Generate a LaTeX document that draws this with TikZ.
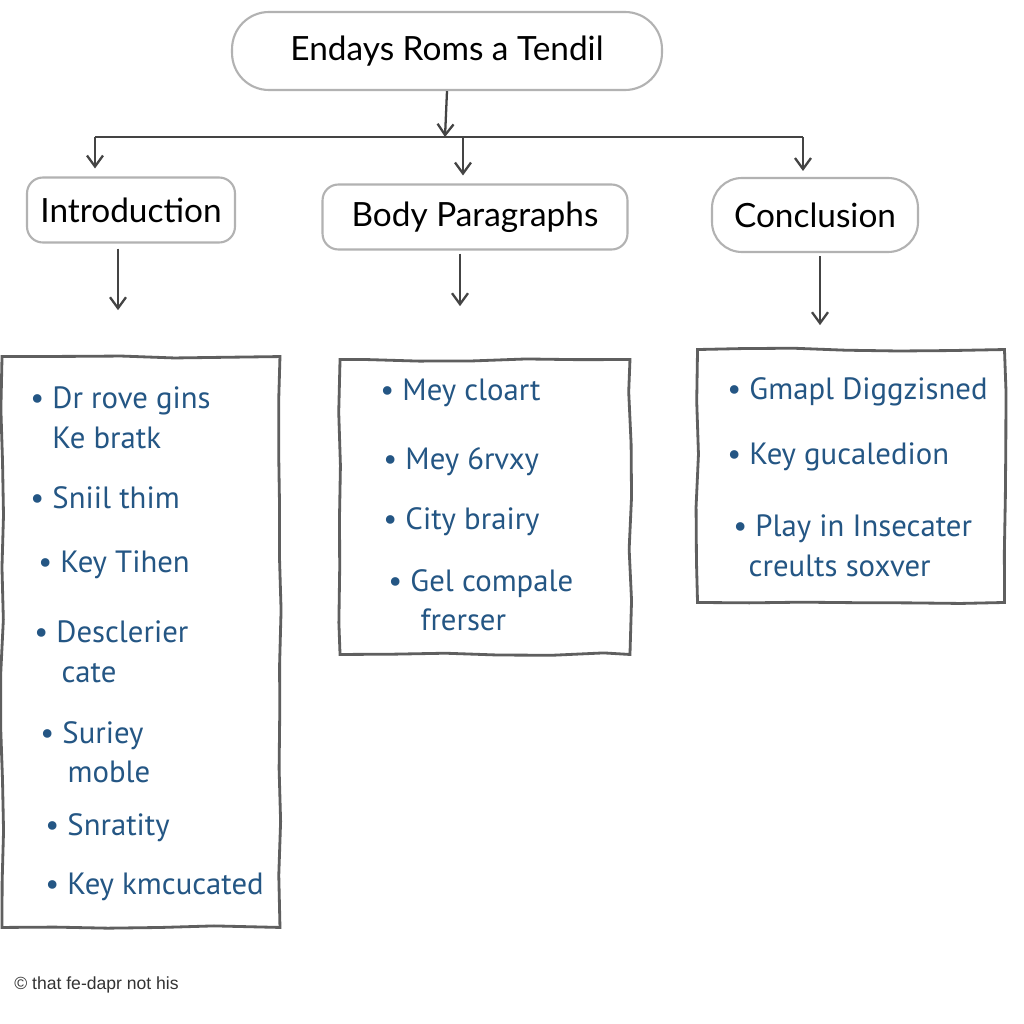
\documentclass[tikz,border=0pt]{standalone}
\usepackage{fontspec}
\setmainfont{Lato}
\newfontfamily\handfont{PT Sans}
\newfontfamily\notefont{Liberation Sans}
\usepackage{tikz}
\usetikzlibrary{arrows.meta,positioning,decorations.pathmorphing,calc}
\definecolor{inkblue}{RGB}{36,86,132}
\definecolor{penGray}{RGB}{95,95,95}
\definecolor{lineGray}{RGB}{178,178,178}
\definecolor{arrowGray}{RGB}{68,68,68}
\newcommand{\bulmark}{\textbullet\ }
\newcommand{\bulgap}{\phantom{\textbullet\ }}

\begin{document}
\begin{tikzpicture}[x=0.02cm,y=-0.02cm,
  head/.style={draw=lineGray,line width=1.2pt,rounded corners=9pt,fill=white,
    inner sep=0pt,font=\fontsize{19}{22}\selectfont},
  sheet/.style={draw=penGray,line width=1.6pt,inner sep=0pt,
    decorate,decoration={random steps,segment length=30pt,amplitude=0.9pt}},
  item/.style={text=inkblue,font=\handfont\fontsize{17.5}{22.5}\selectfont,
    align=left,anchor=west,inner sep=0pt},
  link/.style={draw=arrowGray,line width=1.3pt,-{Straight Barb[length=2.2mm,width=3.2mm]}}]
\pgfmathsetseed{7}
\useasboundingbox[fill=white] (0,0) rectangle (1024,1024);
% headings
\node[head,minimum width=8.6cm,minimum height=1.56cm,rounded corners=21pt] (title) at (447,51) {Endays Roms a Tendil};
\node[head,minimum width=4.16cm,minimum height=1.3cm] (intro) at (131,210) {Introduction};
\node[head,minimum width=6.1cm,minimum height=1.3cm] (body) at (475,217) {Body Paragraphs};
\node[head,minimum width=4.12cm,minimum height=1.48cm,rounded corners=17pt] (concl) at (815,215) {Conclusion};
% content sheets
\node[sheet,minimum width=5.56cm,minimum height=11.42cm] (introbox) at (141,642) {};
\node[sheet,minimum width=5.8cm,minimum height=5.9cm] (bodybox) at (485,507) {};
\node[sheet,minimum width=6.14cm,minimum height=5.06cm] (conclbox) at (851,476) {};
% branching
\coordinate (bar) at (445,137);
\coordinate (barL) at (95,137);
\coordinate (barM) at (463,137);
\coordinate (barR) at (803,137);
\draw[link] (title.south) -- (bar);
\draw[draw=arrowGray,line width=1.3pt] (barL) -- (barR);
\draw[link,shorten >=0.16cm] (barL) -- (barL |- intro.north);
\draw[link,shorten >=0.16cm] (barM) -- (barM |- body.north);
\draw[link,shorten >=0.12cm] (barR) -- (barR |- concl.north);
\coordinate (ia) at ($(intro.south)+(-13,5)$);
\coordinate (ba) at ($(body.south)+(-15,3)$);
\coordinate (ca) at ($(concl.south)+(5,3)$);
\draw[link,shorten >=0.9cm] (ia) -- (ia |- introbox.north);
\draw[link,shorten >=1.04cm] (ba) -- (ba |- bodybox.north);
\draw[link,shorten >=0.46cm] (ca) -- (ca |- conclbox.north);
% bullet points
\node[item] (i1) at (30,418) {\bulmark Dr rove gins\\\bulgap Ke bratk};
\node[item] (i2) at (30,498) {\bulmark Sniil thim};
\node[item] (i3) at (38,565) {\bulmark Key Tihen};
\node[item] (i4) at (34,652) {\bulmark Desclerier\\\bulgap\,cate};
\node[item] (i5) at (40,752) {\bulmark Suriey\\\bulgap\,moble};
\node[item] (i6) at (45,828) {\bulmark Snratity};
\node[item] (i7) at (45,887) {\bulmark Key kmcucated};
\node[item] (b1) at (380,393) {\bulmark Mey cloart};
\node[item] (b2) at (383,462) {\bulmark Mey 6rvxy};
\node[item] (b3) at (383,522) {\bulmark City brairy};
\node[item] (b4) at (388,600) {\bulmark Gel compale\\\bulgap\,\,frerser};
\node[item] (c1) at (727,392) {\bulmark Gmapl Diggzisned};
\node[item] (c2) at (727,457) {\bulmark Key gucaledion};
\node[item] (c3) at (733,546) {\bulmark Play in Insecater\\\hspace{0.5em}creults soxver};
% footer
\node[anchor=west,inner sep=0pt,text=black!80,font=\notefont\fontsize{10}{12}\selectfont] (note) at (14,985) {© that fe-dapr not his};
\end{tikzpicture}
\end{document}
